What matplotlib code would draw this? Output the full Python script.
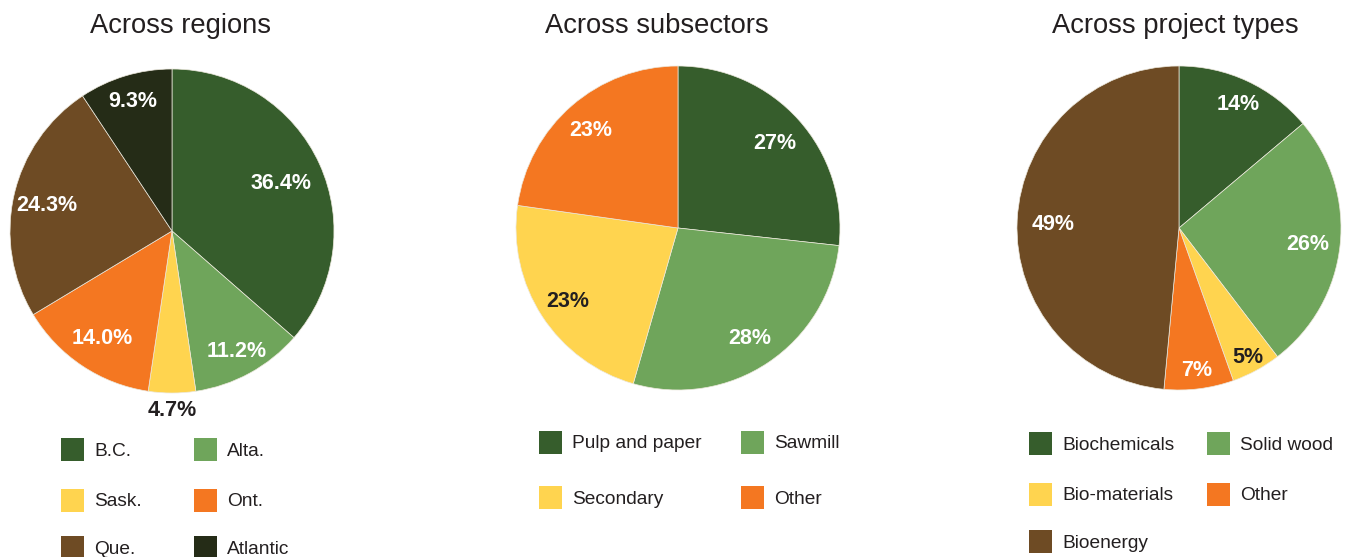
import numpy as np
import matplotlib
matplotlib.use("Agg")
import matplotlib.pyplot as plt
from matplotlib.patches import Rectangle

# ---- data -----------------------------------------------------------------
region_labels = ["B.C.", "Alta.", "Sask.", "Ont.", "Que.", "Atlantic"]
region_values = [36.4, 11.2, 4.7, 14.0, 24.3, 9.3]

subsector_labels = ["Pulp and paper", "Sawmill", "Secondary", "Other"]
subsector_values = [27, 28, 23, 23]

project_labels = ["Biochemicals", "Solid wood", "Bio-materials", "Other", "Bioenergy"]
project_values = [14, 26, 5, 7, 49]

titles = ["Across regions", "Across subsectors", "Across project types"]

# ---- style ----------------------------------------------------------------
DKGREEN = "#365D2C"
LTGREEN = "#6FA55B"
YELLOW = "#FFD44F"
ORANGE = "#F47721"
BROWN = "#6E4B24"
BLACKGRN = "#252C17"
INK = "#231F20"

W, H = 1348, 557
plt.rcParams["font.family"] = ["Liberation Sans", "DejaVu Sans"]

fig = plt.figure(figsize=(W / 100, H / 100), dpi=100)
fig.patch.set_facecolor("white")


def px_axes(cx, cy, r):
    """Axes whose unit circle spans a circle of radius r px centred at (cx, cy) (top-left origin)."""
    return fig.add_axes([(cx - r) / W, (H - cy - r) / H, 2 * r / W, 2 * r / H])


def draw_pie(cx, cy, r, values, colors, fmt, label_r, dark_idx):
    ax = px_axes(cx, cy, r)
    wedges, _ = ax.pie(values, colors=colors, startangle=90, counterclock=False,
                       radius=1.0, wedgeprops=dict(edgecolor="#ece8dc", linewidth=0.5))
    for i, (w, v) in enumerate(zip(wedges, values)):
        mid = np.deg2rad((w.theta1 + w.theta2) / 2)
        rr = label_r[i]
        col = INK if i in dark_idx else "white"
        ax.text(rr * np.cos(mid), rr * np.sin(mid), fmt.format(v),
                ha="center", va="center_baseline", fontsize=15.5, fontweight="bold",
                color=col, clip_on=False)
    ax.set_xlim(-1, 1)
    ax.set_ylim(-1, 1)
    ax.set_aspect("equal")
    ax.axis("off")
    return ax


def draw_legend(labels, colors, x0, x1, row_y, text_gap=10, size=23):
    for i, (lab, col) in enumerate(zip(labels, colors)):
        x = x0 if i % 2 == 0 else x1
        y = row_y[i // 2]
        fig.patches.append(Rectangle((x / W, (H - y - size / 2) / H), size / W, size / H,
                                     transform=fig.transFigure, facecolor=col,
                                     edgecolor="none"))
        fig.text((x + size + text_gap) / W, (H - y) / H, lab, ha="left",
                 va="center_baseline", fontsize=13.8, color=INK)


def draw_title(cx, text):
    fig.text(cx / W, (H - 33) / H, text, ha="center", va="baseline",
             fontsize=19.7, color=INK)


# Regions
region_colors = [DKGREEN, LTGREEN, YELLOW, ORANGE, BROWN, BLACKGRN]
draw_pie(172, 231, 162, region_values, region_colors, "{:.1f}%",
         [0.74, 0.83, 1.09, 0.78, 0.79, 0.85], dark_idx={2})
draw_title(181, titles[0])
draw_legend(region_labels, region_colors, 61, 194, [449, 500, 547])

# Subsectors
subsector_colors = [DKGREEN, LTGREEN, YELLOW, ORANGE]
draw_pie(678, 228, 162, subsector_values, subsector_colors, "{:d}%",
         [0.80, 0.80, 0.81, 0.82], dark_idx={2})
draw_title(657, titles[1])
draw_legend(subsector_labels, subsector_colors, 539, 741, [442, 497])

# Project types
project_colors = [DKGREEN, LTGREEN, YELLOW, ORANGE, BROWN]
draw_pie(1179, 228, 162, project_values, project_colors, "{:d}%",
         [0.86, 0.80, 0.89, 0.87, 0.78], dark_idx={2})
draw_title(1175, titles[2])
draw_legend(project_labels, project_colors, 1029, 1207, [443, 494, 541])

fig.savefig("out.png", dpi=100, facecolor="white")
